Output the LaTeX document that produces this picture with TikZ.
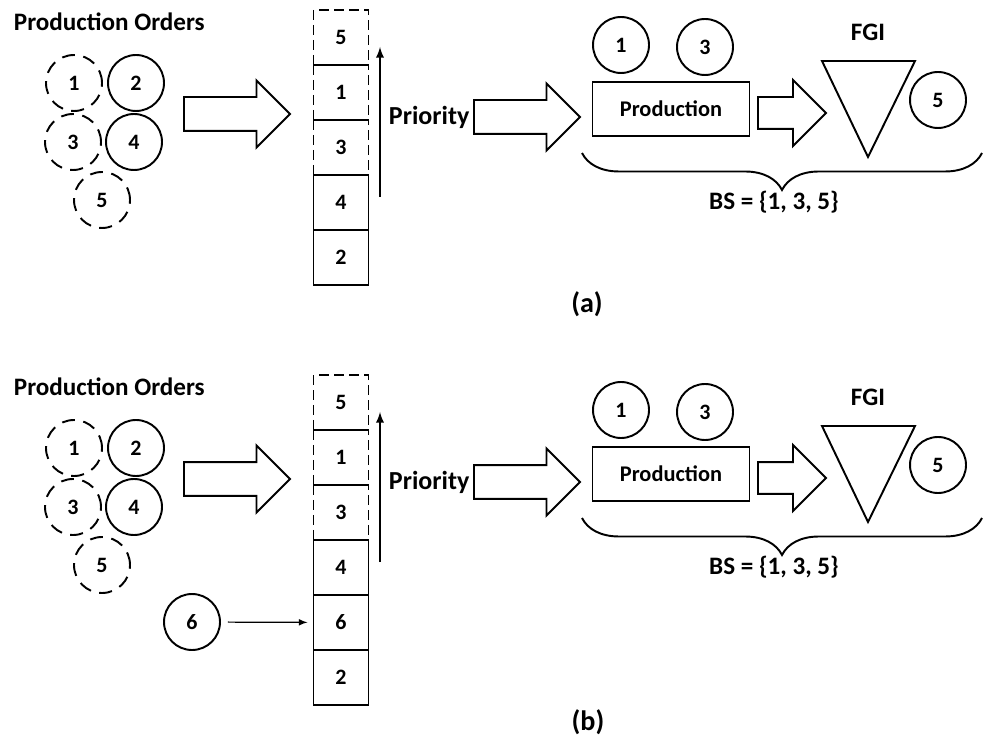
\documentclass[tikz,border=0pt]{standalone}
\usepackage{fontspec}
\setmainfont{Carlito}
\usetikzlibrary{positioning, shapes.arrows, decorations.pathreplacing}

\begin{document}
\begin{tikzpicture}[x=0.02cm, y=-0.02cm, line width=1.1pt,
    longdash/.style={dash pattern=on 0.2cm off 0.1cm},
    rounddash/.style={dash pattern=on 0.26cm off 0.17cm},
    order/.style={draw, circle, minimum size=1.12cm, inner sep=0pt,
                  font=\bfseries\fontsize{12.5}{14}\selectfont},
    slot/.style={draw, minimum size=1.1cm, inner sep=0pt, outer sep=0pt,
                 font=\bfseries\fontsize{12.5}{14}\selectfont},
    bigarrow/.style={draw, single arrow, anchor=tail, inner xsep=0pt, inner ysep=0.32cm,
                     minimum width=1.3cm, single arrow head extend=0.33cm},
    lbl/.style={font=\bfseries\fontsize{14.3}{16}\selectfont}]
    % Coordinates are in pixels of the 986 x 742 reference, y downwards.
    %   panel (b) repeats panel (a) 365 px lower
    \useasboundingbox (0,0) rectangle (986,742);
    \foreach \p/\dy in {a/0, b/365} {
      \begin{scope}[shift={(0,\dy)}]
        \node[lbl, anchor=west, inner sep=0pt] (\p-title) at (13,22) {Production Orders};
        % orders waiting
        \node[order, rounddash] (\p-o1) at (74,83) {1};
        \node[order] (\p-o2) at (136,83) {2};
        \node[order, rounddash] (\p-o3) at (73,142) {3};
        \node[order] (\p-o4) at (134,142) {4};
        \node[order, rounddash] (\p-o5) at (102,200) {5};
        \node[bigarrow, minimum height=2.12cm] (\p-arr1) at (183,114) {};
        % released orders, priority upwards
        \coordinate (\p-prilow) at (380,197);
        \coordinate (\p-prihigh) at (380,47);
        \draw[-latex] (\p-prilow) -- (\p-prihigh);
        \node[lbl, anchor=west, inner sep=0pt, font=\bfseries\fontsize{14.8}{16}\selectfont]
          (\p-pri) at (388,117) {Priority};
        \node[bigarrow, minimum height=2.12cm] (\p-arr2) at (473,117) {};
        % production and finished goods
        \node[draw, minimum width=3.14cm, minimum height=1.08cm,
              font=\bfseries\fontsize{12.75}{14}\selectfont] (\p-prod) at (671,109) {Production};
        \node[order] (\p-w1) at (621,45) {1};
        \node[order] (\p-w3) at (705,47) {3};
        \node[bigarrow, minimum height=1.36cm, minimum width=1.28cm, inner ysep=0.3cm,
              single arrow head extend=0.34cm] (\p-arr3) at (757,113) {};
        \node[lbl] (\p-fgi) at (868,32) {FGI};
        \coordinate (\p-tl) at (822,61);
        \coordinate (\p-tr) at (915,61);
        \coordinate (\p-tb) at (868,157);
        \draw[line join=miter] (\p-tl) -- (\p-tr) -- (\p-tb) -- cycle;
        \node[order] (\p-f5) at (938,100) {5};
        \coordinate (\p-bl) at (582,153);
        \coordinate (\p-br) at (982,153);
        \draw[decorate, decoration={brace, mirror, amplitude=0.74cm}]
          (\p-bl) -- (\p-br);
        \node[lbl] (\p-bs) at (774,202) {BS = \{1, 3, 5\}};
      \end{scope}
    }
    % stack (a)
    \node[slot, longdash] (a-s5) at (341,37.5) {5};
    \node[slot, longdash, below=0pt of a-s5] (a-s1) {1};
    \node[slot, longdash, below=0pt of a-s1] (a-s3) {3};
    \node[slot, below=0pt of a-s3] (a-s4) {4};
    \node[slot, below=0pt of a-s4] (a-s2) {2};
    \node[lbl, font=\bfseries\fontsize{16}{18}\selectfont] (a-cap) at (587,304) {(a)};
    % stack (b), order 6 slotted in
    \node[slot, longdash] (b-s5) at (341,402.5) {5};
    \node[slot, longdash, below=0pt of b-s5] (b-s1) {1};
    \node[slot, longdash, below=0pt of b-s1] (b-s3) {3};
    \node[slot, below=0pt of b-s3] (b-s4) {4};
    \node[slot, below=0pt of b-s4] (b-s6) {6};
    \node[slot, below=0pt of b-s6] (b-s2) {2};
    \node[order] (b-o6) at (192,622) {6};
    \draw[-latex, line width=0.7pt, shorten <=0.14cm, shorten >=0.12cm] (b-o6) -- (b-s6);
    \node[lbl, font=\bfseries\fontsize{16}{18}\selectfont] (b-cap) at (588,722) {(b)};
\end{tikzpicture}
\end{document}
